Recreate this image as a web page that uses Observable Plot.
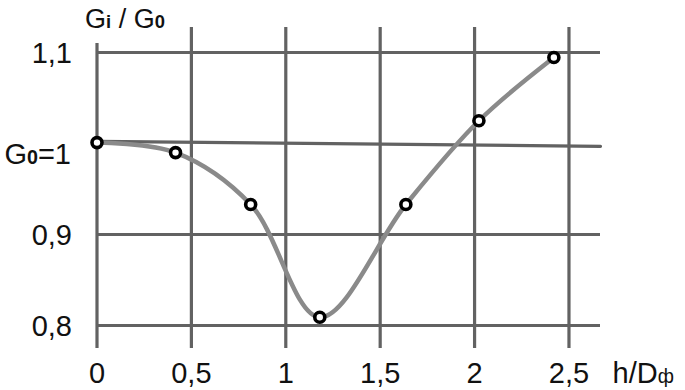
<!DOCTYPE html>
<html>
<head>
<meta charset="utf-8">
<script src="https://cdn.jsdelivr.net/npm/d3@7"></script>
<script src="https://cdn.jsdelivr.net/npm/@observablehq/plot@0.6"></script>
<style>
  html, body { margin: 0; padding: 0; background: #fff; }
  svg { display: block; }
</style>
</head>
<body>
<div id="chart"></div>
<script>
// Measured points (h/Dф, Gi/G0)
const hD = [0, 0.416, 0.814, 1.18, 1.636, 2.023, 2.42];
const ratio = [1.001, 0.990, 0.933, 0.809, 0.933, 1.025, 1.0945];

// G0 = 1 reference line (slightly tilted in the original drawing)
const refX = [0, 2.667];
const refY = [1.0024, 0.9969];

// Ticks
const xTicks = [0, 0.5, 1, 1.5, 2, 2.5];
const xTickLabels = ["0", "0,5", "1", "1,5", "2", "2,5"];
const yTicks = [0.8, 0.9, 1.1];
const yTickLabels = ["0,8", "0,9", "1,1"];

const xMin = 0, xMax = 2.667;
const yMin = 0.7747, yMax = 1.1275;

const curve = hD.map((x, i) => ({x, y: ratio[i]}));
const ref = refX.map((x, i) => ({x, y: refY[i]}));

const FONT = "'Liberation Sans', Arial, sans-serif";
const GRID = "#626262";

const plot = Plot.plot({
  width: 685,
  height: 390,
  marginLeft: 96.5,
  marginRight: 85,
  marginTop: 27,
  marginBottom: 42,
  style: {fontFamily: FONT, background: "#fff", overflow: "visible"},
  x: {domain: [xMin, xMax], axis: null},
  y: {domain: [yMin, yMax], axis: null},
  marks: [
    Plot.ruleX(xTicks, {x: d => d, y1: yMin, y2: d => d === 0 ? 1.11 : yMax, stroke: GRID, strokeWidth: 3.2}),
    Plot.ruleY(yTicks, {y: d => d, x1: xMin, x2: xMax, stroke: GRID, strokeWidth: 3.2}),
    Plot.line(ref, {x: "x", y: "y", stroke: GRID, strokeWidth: 3.2}),
    Plot.line(curve, {x: "x", y: "y", curve: "catmull-rom", stroke: "#8a8a8a", strokeWidth: 4.5}),
    Plot.dot(curve, {x: "x", y: "y", r: 5, fill: "#fff", stroke: "#000", strokeWidth: 3.6}),
    Plot.text(xTicks, {x: d => d, y: yMin, text: (d, i) => xTickLabels[i], dy: 25, fontSize: 29, lineAnchor: "middle", fill: "#111"}),
    Plot.text(yTicks, {x: xMin, y: d => d, text: (d, i) => yTickLabels[i], dx: -25, dy: 1, fontSize: 29, textAnchor: "end", lineAnchor: "middle", fill: "#111"}),
    Plot.text(["G0=1"], {x: xMin, y: 1.0, text: d => d, dx: -26, dy: 11, fontSize: 29, textAnchor: "end", lineAnchor: "middle", fill: "#111"}),
    Plot.text(["Gi / G0"], {x: xMin, y: yMax, text: d => d, dx: -12, dy: -8, fontSize: 27, textAnchor: "start", lineAnchor: "middle", fill: "#111"}),
    Plot.text(["h/Dф"], {x: xMax, y: yMin, text: d => d, dx: 12, dy: 25, fontSize: 29, textAnchor: "start", lineAnchor: "middle", fill: "#111"})
  ]
});

document.getElementById("chart").appendChild(plot);

// Render the small subscript-like characters with tspans
const subs = {
  "Gi / G0": [["G", false], ["i", true], [" / G", false], ["0", true]],
  "G0=1": [["G", false], ["0", true], ["=1", false]],
  "h/Dф": [["h/D", false], ["ф", true]]
};
d3.select(plot).selectAll("text").each(function() {
  const t = this.textContent;
  if (subs[t]) {
    const el = d3.select(this);
    el.text(null);
    subs[t].forEach(([s, small]) => {
      const ts = el.append("tspan").text(s);
      if (small) {
        ts.attr("font-size", "0.68em");
        if (s !== "ф") ts.attr("font-weight", "bold");
      }
    });
  }
});
</script>
</body>
</html>
